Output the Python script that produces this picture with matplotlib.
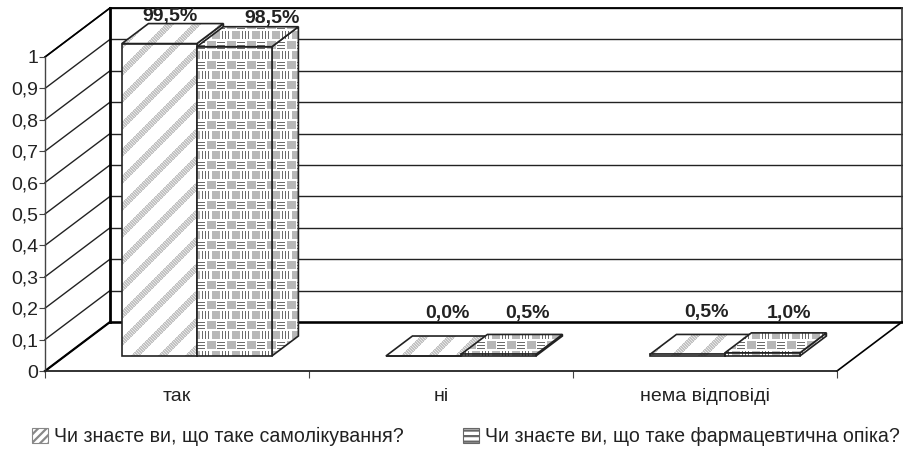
import numpy as np
import matplotlib
matplotlib.use('Agg')
import matplotlib.pyplot as plt
from matplotlib.patches import Polygon, Patch

plt.rcParams.update({
    'font.family': 'Liberation Sans', 'font.size': 14,
    'hatch.linewidth': 1.6,
})

categories = ['так', 'ні', 'нема відповіді']
series_names = ['Чи знаєте ви, що таке самолікування?',
                'Чи знаєте ви, що таке фармацевтична опіка?']
values_a = [0.995, 0.0, 0.005]
values_b = [0.985, 0.005, 0.01]
labels_a = ['99,5%', '0,0%', '0,5%']
labels_b = ['98,5%', '0,5%', '1,0%']
y_ticks = [0, 0.1, 0.2, 0.3, 0.4, 0.5, 0.6, 0.7, 0.8, 0.9, 1]
y_tick_labels = ['0', '0,1', '0,2', '0,3', '0,4', '0,5', '0,6', '0,7', '0,8', '0,9', '1']

W, H = 904, 450
X0, X1, Y0, Y1 = 45, 837, 371, 57          # front plane in pixels
PX = (X1 - X0) / 3
PY = (Y0 - Y1)
DX, DY = 65 / PX, 49 / PY                  # oblique shift of full depth
GAP, BAR_W = 0.216, 0.284
D0, D1 = 0.306, 0.714                      # bar depth range
# label nudges in pixels, per category
off_a = [(-16, 3), (-2, 18), (-7, 17)]
off_b = [(11, 4), (3, 16), (0, 15)]


def proj(x, y, d):
    return (x + d * DX, y + d * DY)


def tile_stripes():
    yy, xx = np.mgrid[0:H, 0:W]
    img = np.ones((H, W))
    m = ((xx + yy) % 27) < 9
    img[m] = np.where((xx[m] + 2 * yy[m]) % 3 == 0, 0.9, 0.76)
    return img


def tile_weave():
    yy, xx = np.mgrid[0:H, 0:W]
    xm, ym = xx % 20, yy % 20
    img = np.ones((H, W))
    # row A: horizontal dashes, then a grey block
    img[(ym >= 1) & (ym <= 8) & ((xm >= 17) | (xm <= 4)) & (ym % 3 == 2)] = 0.42
    img[(ym >= 1) & (ym <= 8) & (xm >= 7) & (xm <= 15)] = 0.72
    # row B: vertical dashes, then a grey block
    img[(ym >= 11) & (ym <= 18) & (xm >= 2) & (xm <= 9) & (xm % 3 == 2)] = 0.42
    img[(ym >= 11) & (ym <= 18) & (xm >= 12)] = 0.72
    return img


def face(ax, pts, tile, z):
    p = Polygon(pts, closed=True, fc='white', ec='none', zorder=z, clip_on=False)
    ax.add_patch(p)
    ext = (-X0 / PX, (W - X0) / PX, -(H - Y0) / PY, Y0 / PY)
    im = ax.imshow(tile, cmap='gray', vmin=0, vmax=1, extent=ext, aspect='auto',
                   interpolation='nearest', zorder=z)
    im.set_clip_box(fig.bbox)
    im.set_clip_path(p)
    ax.add_patch(Polygon(pts, closed=True, fc='none', ec='#222222', lw=1.2,
                         zorder=z, clip_on=False))


def bar3d(ax, x, w, v, tile, z):
    l, r = x, x + w
    side = [proj(r, 0, D0), proj(r, 0, D1), proj(r, v, D1), proj(r, v, D0)]
    top = [proj(l, v, D0), proj(r, v, D0), proj(r, v, D1), proj(l, v, D1)]
    front = [proj(l, 0, D0), proj(r, 0, D0), proj(r, v, D0), proj(l, v, D0)]
    face(ax, side, tile, z)
    face(ax, top, tile, z + 0.1)
    face(ax, front, tile, z + 0.2)


fig = plt.figure(figsize=(W / 100, H / 100), dpi=100)
ax = fig.add_axes([X0 / W, 1 - Y0 / H, (X1 - X0) / W, (Y0 - Y1) / H])
ax.set_xlim(0, 3)
ax.set_ylim(0, 1)
ax.autoscale(False)
ax.patch.set_visible(False)

# walls
for t in y_ticks:
    ax.plot(*zip(proj(0, t, 0), proj(0, t, 1)), color='#222222', lw=1.0, clip_on=False, zorder=1)
    ax.plot(*zip(proj(0, t, 1), proj(3, t, 1)), color='#222222', lw=1.0, clip_on=False, zorder=1)
ax.plot(*zip(proj(0, 1, 0), proj(0, 1, 1)), color='black', lw=1.2, clip_on=False, zorder=1)
ax.plot(*zip(proj(0, 1, 1), proj(3, 1, 1)), color='black', lw=1.3, clip_on=False, zorder=1)
ax.plot(*zip(proj(0, 0, 1), proj(0, 1, 1)), color='black', lw=2.0, clip_on=False, zorder=1)
ax.plot(*zip(proj(3, 0, 1), proj(3, 1, 1)), color='#333333', lw=1.2, clip_on=False, zorder=1)
# floor
ax.plot(*zip(proj(0, 0, 0), proj(0, 0, 1)), color='black', lw=1.6, clip_on=False, zorder=1)
ax.plot(*zip(proj(3, 0, 0), proj(3, 0, 1)), color='black', lw=1.2, clip_on=False, zorder=1)
ax.plot(*zip(proj(0, 0, 1), proj(3, 0, 1)), color='black', lw=1.8, clip_on=False, zorder=1)

# bars
stripes, weave = tile_stripes(), tile_weave()
for i in range(len(categories)):
    bar3d(ax, i + GAP, BAR_W, values_a[i], stripes, 3)
    bar3d(ax, i + GAP + BAR_W, BAR_W, values_b[i], weave, 4)

    xa, ya = proj(i + GAP + BAR_W / 2, values_a[i], D1)
    ax.annotate(labels_a[i], (xa, ya), xytext=off_a[i], textcoords='offset pixels',
                ha='center', va='baseline', fontsize=14, fontweight='bold',
                color='#222222', annotation_clip=False, zorder=6)
    xb, yb = proj(i + GAP + 1.5 * BAR_W, values_b[i], D1)
    ax.annotate(labels_b[i], (xb, yb), xytext=off_b[i], textcoords='offset pixels',
                ha='center', va='baseline', fontsize=14, fontweight='bold',
                color='#222222', annotation_clip=False, zorder=6)

# axes
for s in ['top', 'right']:
    ax.spines[s].set_visible(False)
ax.spines['left'].set_color('#444444')
ax.spines['left'].set_linewidth(1.0)
ax.spines['bottom'].set_linewidth(1.3)
ax.spines['bottom'].set_color('#222222')
ax.set_yticks(y_ticks)
ax.set_yticklabels(y_tick_labels, color='#222222')
ax.tick_params(axis='y', length=4, width=0.8, pad=1, color='#444444')
ax.set_xticks([0, 1, 2, 3])
ax.set_xticklabels([])
ax.set_xticks(np.arange(len(categories)) + 0.5, minor=True)
ax.set_xticklabels(categories, minor=True, color='#222222')
ax.tick_params(axis='x', which='major', length=5, width=0.8, color='#444444')
ax.tick_params(axis='x', which='minor', length=0, pad=12.5)

# legend
handles = [Patch(fc='white', ec='#888888', hatch='////', lw=0.8),
           Patch(fc='white', ec='#666666', hatch='---', lw=0.8)]
fig.legend(handles, series_names, loc='lower left', bbox_to_anchor=(26 / W, -2 / H),
           ncol=2, frameon=False, fontsize=14.1, handlelength=0.8, handleheight=0.8,
           handletextpad=0.35, columnspacing=3.0, labelcolor='#222222',
           borderpad=0.3, borderaxespad=0)

fig.savefig('out.png', dpi=100)
